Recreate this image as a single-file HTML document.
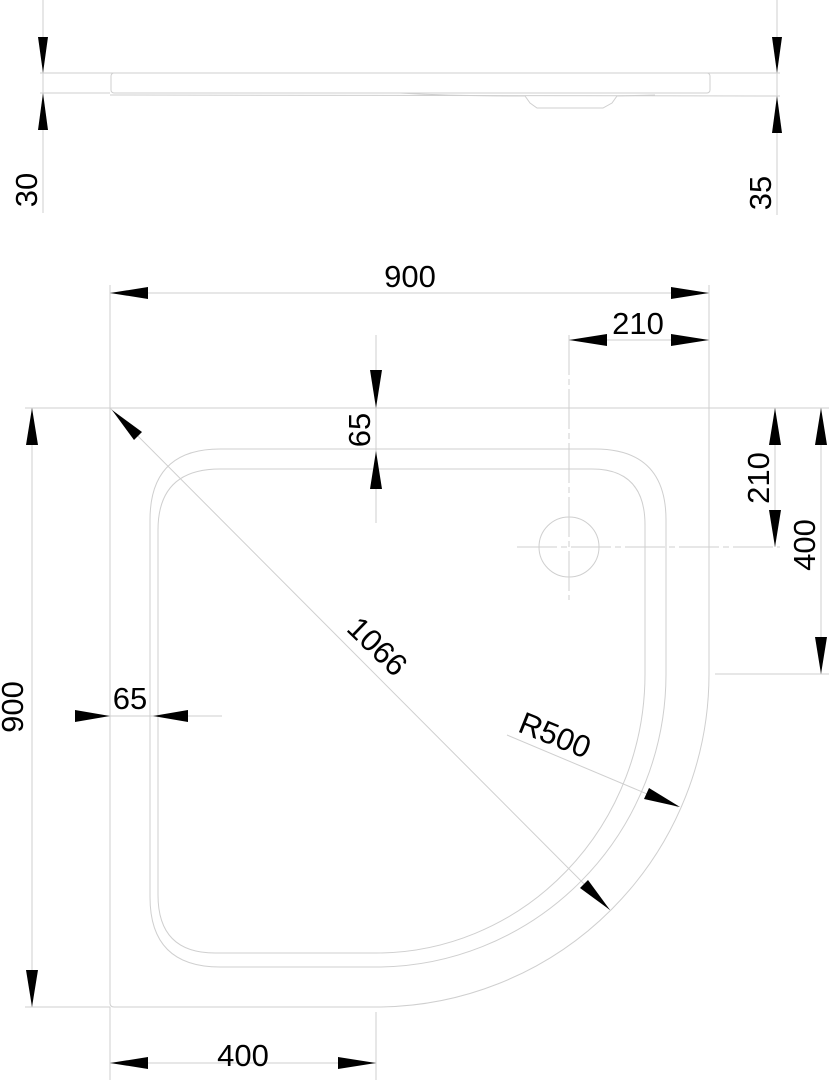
<!DOCTYPE html>
<html><head><meta charset="utf-8"><style>
html,body{margin:0;padding:0;background:#fff;}
svg{display:block;}
text{font-family:"Liberation Sans",sans-serif;font-size:31px;fill:#000;}
</style></head><body>
<svg width="829" height="1080" viewBox="0 0 829 1080" xmlns="http://www.w3.org/2000/svg">
<g stroke="#cfcfcf" stroke-width="1" fill="none">
<!-- side view -->
<line x1="43" y1="0" x2="43" y2="213"/>
<line x1="777" y1="0" x2="777" y2="215"/>
<line x1="40" y1="73" x2="780" y2="73"/>
<line x1="40" y1="93" x2="110" y2="93"/>
<line x1="110" y1="95" x2="780" y2="96"/>
<rect x="111" y="73" width="599" height="20" rx="3"/>
<path d="M400 93 Q450 96 525 96 L530 103 L537 108 L603 108 L612 103 L617 96 L655 95"/>
<!-- plan outer -->
<path d="M110 408 L709 408 L709 674 A333 333 0 0 1 376 1007 L114 1007 Q110 1007 110 1003 Z"/>
<!-- outer contour -->
<path d="M150 520 Q150 449 220 449 L595 449 Q666 449 666 520 L666 674 A290 293 0 0 1 376 967 L220 967 Q150 967 150 897 Z"/>
<!-- inner contour -->
<path d="M158 530 Q158 469 220 469 L592 469 Q645 469 645 525 L645 674 A269 279 0 0 1 376 953 L215 953 Q158 953 158 895 Z"/>
<!-- extension lines -->
<line x1="110" y1="285" x2="110" y2="408"/>
<line x1="709" y1="285" x2="709" y2="408"/>
<line x1="110" y1="293" x2="709" y2="293"/>
<line x1="569" y1="340" x2="709" y2="340"/>
<line x1="569" y1="335" x2="569" y2="600" stroke-dasharray="40 4 6 4"/>
<line x1="517" y1="547" x2="780" y2="547" stroke-dasharray="40 4 6 4"/>
<line x1="376" y1="335" x2="376" y2="523"/>
<line x1="25" y1="408" x2="110" y2="408"/>
<line x1="709" y1="408" x2="829" y2="408"/>
<line x1="376" y1="449" x2="460" y2="449"/>
<line x1="775" y1="408" x2="775" y2="547"/>
<line x1="821" y1="408" x2="821" y2="674"/>
<line x1="715" y1="674" x2="829" y2="674"/>
<line x1="32" y1="408" x2="32" y2="1007"/>
<line x1="25" y1="1007" x2="110" y2="1007"/>
<line x1="75" y1="716" x2="222" y2="716"/>
<line x1="110" y1="1007" x2="110" y2="1080"/>
<line x1="376" y1="1012" x2="376" y2="1080"/>
<line x1="110" y1="1063" x2="376" y2="1063"/>
<line x1="110" y1="408" x2="610" y2="910"/>
<line x1="507" y1="735" x2="678" y2="807"/>
</g>
<circle cx="569" cy="547" r="30" stroke="#cfcfcf" fill="none"/>
<g fill="#000">
<!-- side arrows -->
<polygon points="43,73 38,37 48,37"/><polygon points="43,93 38,130 48,130"/>
<polygon points="777,73 772,37 782,37"/><polygon points="777,96 772,133 782,133"/>
<!-- 900 top -->
<polygon points="110,293 148,287 148,299"/><polygon points="709,293 671,287 671,299"/>
<!-- 210 top -->
<polygon points="569,340 607,334 607,346"/><polygon points="709,340 671,334 671,346"/>
<!-- 65 vertical -->
<polygon points="376,408 370,370 382,370"/><polygon points="376,451 370,489 382,489"/>
<!-- right 210 -->
<polygon points="775,408 769,445 781,445"/><polygon points="775,547 769,510 781,510"/>
<!-- right 400 -->
<polygon points="821,408 815,445 827,445"/><polygon points="821,674 815,637 827,637"/>
<!-- left 900 -->
<polygon points="32,408 26,445 38,445"/><polygon points="32,1007 26,970 38,970"/>
<!-- 65 left -->
<polygon points="110,716 75,710 75,722"/><polygon points="153,716 188,710 188,722"/>
<!-- 400 bottom -->
<polygon points="110,1063 148,1057 148,1069"/><polygon points="376,1063 338,1057 338,1069"/>
<!-- diagonal -->
<polygon points="112,410 142,432 134,440"/><polygon points="610,910 580,888 588,880"/>
<!-- R500 -->
<polygon points="680,807 644,799 649,788"/>
</g>
<text x="410" y="287" text-anchor="middle">900</text>
<text x="638" y="334" text-anchor="middle">210</text>
<text x="243" y="1066" text-anchor="middle">400</text>
<text x="130" y="709" text-anchor="middle">65</text>
<text transform="translate(370,430) rotate(-90)" text-anchor="middle">65</text>
<text transform="translate(37,190) rotate(-90)" text-anchor="middle">30</text>
<text transform="translate(771,193) rotate(-90)" text-anchor="middle">35</text>
<text transform="translate(769,478) rotate(-90)" text-anchor="middle">210</text>
<text transform="translate(815,545) rotate(-90)" text-anchor="middle">400</text>
<text transform="translate(23,707) rotate(-90)" text-anchor="middle">900</text>
<text transform="translate(370,654) rotate(44)" text-anchor="middle">1066</text>
<text transform="translate(551,745) rotate(22)" text-anchor="middle">R500</text>
</svg>
</body></html>
